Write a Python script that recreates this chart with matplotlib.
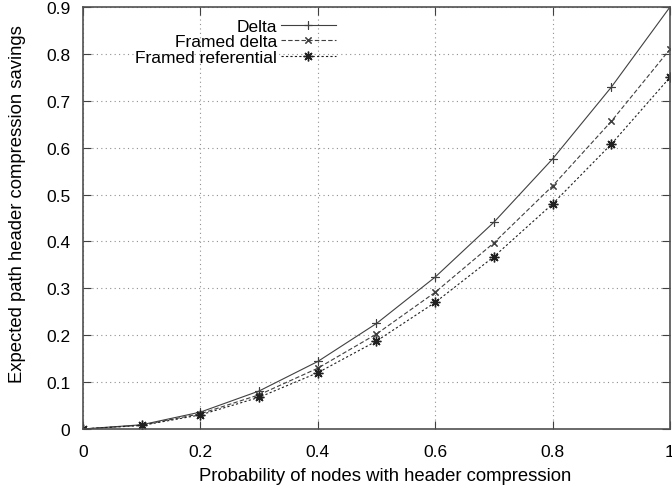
import numpy as np
import matplotlib
matplotlib.use('Agg')
import matplotlib.pyplot as plt

plt.rcParams['font.family'] = ['Liberation Sans', 'DejaVu Sans']

p = [0.0, 0.1, 0.2, 0.3, 0.4, 0.5, 0.6, 0.7, 0.8, 0.9, 1.0]
delta = [0.0, 0.009, 0.036, 0.081, 0.144, 0.225, 0.324, 0.441, 0.576, 0.729, 0.9]
framed_delta = [0.0, 0.0081, 0.0324, 0.0729, 0.1296, 0.2025, 0.2916, 0.3969, 0.5184, 0.6561, 0.81]
framed_ref = [0.0, 0.0075, 0.03, 0.0675, 0.12, 0.1875, 0.27, 0.3675, 0.48, 0.6075, 0.75]

fig = plt.figure(figsize=(6.72, 4.89), dpi=100)
ax = fig.add_axes([0.1235, 0.1207, 0.8735, 0.8629])

ax.plot(p, delta, color='#404040', lw=0.8, ls='-', marker=(4, 2, 0), ms=6,
        mew=0.8, label='Delta')
ax.plot(p, framed_delta, color='#404040', lw=0.8, ls=(0, (4, 2)), marker=(4, 2, 45),
        ms=6, mew=0.8, label='Framed delta')
ax.plot(p, framed_ref, color='#202020', lw=0.8, ls=(0, (2, 2)), marker=(8, 2, 0),
        ms=7, mew=1.0, label='Framed referential')

ax.set_xlim(0, 1)
ax.set_ylim(0, 0.9)
ax.set_xticks([0, 0.2, 0.4, 0.6, 0.8, 1.0])
ax.set_xticklabels(['0', '0.2', '0.4', '0.6', '0.8', '1'])
ax.set_yticks(np.arange(0, 0.91, 0.1))
ax.set_yticklabels(['0', '0.1', '0.2', '0.3', '0.4', '0.5', '0.6', '0.7', '0.8', '0.9'])
ax.tick_params(direction='in', top=True, right=True, length=6, labelsize=12.5,
               width=0.8, color='#404040')
ax.tick_params(axis='x', pad=11)
ax.tick_params(axis='y', pad=9)
ax.grid(True, ls=(0, (1, 3)), color='#909090', lw=0.8)
for s in ax.spines.values():
    s.set_color('#505050')
    s.set_linewidth(1.2)

ax.set_xlabel('Probability of nodes with header compression', fontsize=13.3)
ax.set_ylabel('Expected path header compression savings', fontsize=13.3)
ax.xaxis.set_label_coords(0.514, -0.09)
ax.yaxis.set_label_coords(-0.097, 0.535)

leg = ax.legend(loc='upper right', bbox_to_anchor=(0.44, 0.985), frameon=False,
                markerfirst=False, fontsize=12.5, handlelength=3.2, handletextpad=0.2,
                labelspacing=0.02, borderaxespad=0.0, borderpad=0.3)
# right-align rows so text ends next to the samples, like gnuplot
for col in leg._legend_handle_box.get_children():
    col.align = 'right'

plt.savefig('out.png', dpi=100)
